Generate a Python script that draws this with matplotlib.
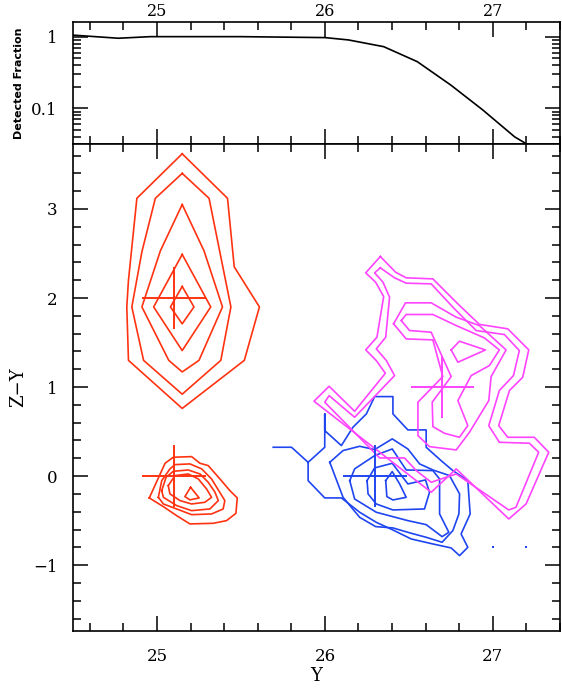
import numpy as np
import matplotlib
matplotlib.use("Agg")
import matplotlib.pyplot as plt
from matplotlib.ticker import MultipleLocator, LogLocator, FuncFormatter, NullFormatter

plt.rcParams['font.family'] = ['DejaVu Serif']

# =========================
# DETECTED FRACTION
# =========================
df_mag = [24.50, 24.77, 24.96, 25.50, 26.00, 26.14, 26.35, 26.55, 26.75, 26.94, 27.13, 27.19]
df_frac = [1.05, 0.95, 1.0, 1.0, 0.97, 0.90, 0.725, 0.448, 0.211, 0.095, 0.040, 0.033]

# =========================
# CONTOURS (Y, Z-Y)
# =========================
red_up_y = [
    [25.15, 25.42, 25.46, 25.61, 25.52, 25.15, 24.83, 24.82, 24.83, 24.88],
    [25.15, 25.31, 25.44, 25.38, 25.15, 24.92, 24.85, 24.91, 24.99],
    [25.15, 25.28, 25.39, 25.25, 25.15, 25.07, 24.91, 25.02],
    [25.15, 25.32, 25.15, 24.98],
    [25.15, 25.22, 25.15, 25.08],
]
red_up_zy = [
    [3.62, 3.12, 2.35, 1.90, 1.30, 0.76, 1.30, 1.90, 2.20, 3.12],
    [3.40, 3.12, 1.90, 1.30, 0.92, 1.30, 1.90, 2.52, 3.12],
    [3.05, 2.53, 1.90, 1.30, 1.17, 1.30, 1.90, 2.53],
    [2.49, 1.90, 1.41, 1.90],
    [2.13, 1.90, 1.71, 1.90],
]

red_lo_y = [
    [24.954, 25.048, 25.097, 25.206, 25.256, 25.305, 25.375, 25.434, 25.478, 25.470, 25.414, 25.335, 25.196, 25.117, 25.038],
    [25.008, 25.028, 25.077, 25.107, 25.196, 25.266, 25.325, 25.365, 25.404, 25.394, 25.325, 25.206, 25.117, 25.038],
    [25.028, 25.054, 25.097, 25.186, 25.256, 25.305, 25.345, 25.365, 25.315, 25.206, 25.117, 25.038],
    [25.067, 25.107, 25.186, 25.246, 25.295, 25.325, 25.285, 25.206, 25.137, 25.077],
    [25.200, 25.166, 25.196, 25.251],
]
red_lo_zy = [
    [-0.245, 0.144, 0.212, 0.219, 0.144, 0.118, -0.032, -0.163, -0.245, -0.418, -0.500, -0.530, -0.537, -0.444, -0.343],
    [-0.238, -0.051, 0.081, 0.129, 0.137, 0.081, -0.032, -0.155, -0.275, -0.369, -0.425, -0.433, -0.369, -0.313],
    [-0.163, -0.013, 0.054, 0.069, 0.024, -0.069, -0.180, -0.275, -0.369, -0.388, -0.331, -0.238],
    [-0.107, 0.006, 0.024, -0.032, -0.144, -0.238, -0.294, -0.313, -0.275, -0.200],
    [-0.126, -0.230, -0.267, -0.245],
]

# outer blue contour is open (runs off the grid on the left)
blue_out_y = [25.692, 25.801, 25.900, 25.900, 25.999, 26.098, 26.207, 26.306, 26.405, 26.514, 26.643,
              26.752, 26.802, 26.851, 26.811, 26.865, 26.851, 26.762, 26.692, 26.603, 26.603, 26.494,
              26.405, 26.405, 26.296, 26.247, 26.167, 26.098, 25.999, 25.999, 25.999, 25.900]
blue_out_zy = [0.324, 0.324, 0.155, -0.051, -0.245, -0.245, -0.406, -0.519, -0.605, -0.706, -0.762,
               -0.807, -0.893, -0.800, -0.650, -0.425, -0.051, 0.062, 0.174, 0.324, 0.519, 0.519,
               0.699, 0.893, 0.893, 0.699, 0.549, 0.343, 0.511, 0.699, 0.324, 0.155]

blue_y = [
    [26.029, 26.108, 26.207, 26.296, 26.401, 26.494, 26.564, 26.643, 26.742, 26.802, 26.798, 26.762,
     26.698, 26.603, 26.514, 26.405, 26.302, 26.207, 26.108],
    [26.148, 26.177, 26.296, 26.401, 26.484, 26.643, 26.683, 26.683, 26.738, 26.698, 26.603, 26.494,
     26.306, 26.177],
    [26.251, 26.296, 26.401, 26.494, 26.599, 26.623, 26.593, 26.405, 26.306, 26.257],
    [26.362, 26.401, 26.445, 26.484, 26.405, 26.369],
]
blue_zy = [
    [0.155, 0.287, 0.335, 0.298, 0.418, 0.305, 0.137, 0.069, 0.006, -0.200, -0.425, -0.612,
     -0.743, -0.687, -0.642, -0.582, -0.567, -0.463, -0.238],
    [-0.051, 0.081, 0.230, 0.305, 0.069, 0.062, -0.032, -0.425, -0.631, -0.680, -0.545, -0.500,
     -0.406, -0.257],
    [-0.051, 0.092, 0.144, -0.088, -0.043, -0.182, -0.369, -0.380, -0.313, -0.200],
    [-0.051, 0.051, -0.088, -0.238, -0.268, -0.230],
]
blue_dot_y = [27.0, 27.2]
blue_dot_zy = [-0.8, -0.8]

mag_y = [
    [26.330, 26.243, 26.302, 26.350, 26.310, 26.243, 26.306, 26.360, 26.177, 26.025, 25.935, 26.633,
     26.782, 27.095, 27.198, 27.333, 27.247, 27.089, 27.035, 27.099, 27.178, 27.214, 27.089, 26.920,
     26.792, 26.643, 26.484, 26.421],
    [26.330, 26.296, 26.346, 26.385, 26.362, 26.306, 26.366, 26.415, 26.177, 26.025, 25.999, 26.326,
     26.474, 26.544, 26.633, 26.782, 27.095, 27.138, 27.273, 27.218, 27.039, 26.976, 27.039, 27.123,
     27.158, 27.069, 26.901, 26.772, 26.633, 26.484, 26.415],
    [26.409, 26.480, 26.633, 26.782, 26.920, 27.079, 26.990, 26.976, 26.861, 26.782, 26.623, 26.554,
     26.554, 26.702, 26.643, 26.484],
    [26.455, 26.484, 26.643, 26.782, 26.950, 27.039, 26.980, 26.871, 26.792, 26.851, 26.801, 26.712,
     26.643, 26.639, 26.752, 26.673, 26.633, 26.504],
    [26.752, 26.801, 26.956, 26.792],
]
mag_zy = [
    [2.466, 2.283, 2.178, 2.017, 1.560, 1.418, 1.298, 1.155, 0.728, 1.009, 0.841, -0.181,
     0.081, -0.481, -0.313, 0.268, 0.436, 0.436, 0.567, 0.961, 1.110, 1.418, 1.654, 1.704,
     1.934, 2.215, 2.227, 2.290],
    [2.339, 2.283, 2.178, 2.009, 1.560, 1.429, 1.298, 1.129, 0.661, 0.904, 0.830, 0.204,
     0.204, 0.062, -0.069, 0.024, -0.380, -0.350, 0.268, 0.369, 0.380, 0.567, 0.961, 1.129,
     1.410, 1.590, 1.635, 1.878, 2.159, 2.167, 2.227],
    [1.710, 1.946, 1.946, 1.785, 1.691, 1.417, 1.118, 0.848, 0.493, 0.294, 0.331, 0.455,
     0.830, 1.118, 1.530, 1.541],
    [1.747, 1.815, 1.815, 1.691, 1.552, 1.417, 1.242, 1.129, 0.848, 0.567, 0.436, 0.481,
     0.556, 0.830, 1.118, 1.448, 1.616, 1.635],
    [1.417, 1.515, 1.417, 1.279],
]

# crosses (centre and half-sizes)
cross_y = [25.10, 25.10, 26.30, 26.70]
cross_zy = [2.0, 0.0, 0.0, 1.0]
cross_dy = 0.19
cross_dzy = 0.35

RED = '#ff3311'
BLUE = '#1f45f0'
MAG = '#ff44ff'
LW = 1.2

# =========================
# FIGURE
# =========================
fig = plt.figure(figsize=(5.62, 6.88), dpi=100)
ax_top = fig.add_axes([0.130, 0.7907, 0.8664, 0.1773])
ax = fig.add_axes([0.130, 0.0828, 0.8664, 0.7079])


def closed(xs, ys):
    return list(xs) + [xs[0]], list(ys) + [ys[0]]


# top panel
ax_top.plot(df_mag, df_frac, color='black', lw=1.2)
ax_top.set_yscale('log')
ax_top.set_xlim(24.5, 27.4)
ax_top.set_ylim(0.0318, 1.6)
ax_top.yaxis.set_major_locator(LogLocator(base=10, numticks=10))
ax_top.yaxis.set_minor_locator(LogLocator(base=10, subs=np.arange(2, 10), numticks=10))
ax_top.yaxis.set_major_formatter(FuncFormatter(lambda v, p: f'{v:g}'))
ax_top.yaxis.set_minor_formatter(NullFormatter())
ax_top.xaxis.set_major_locator(MultipleLocator(1))
ax_top.xaxis.set_minor_locator(MultipleLocator(0.2))
ax_top.set_ylabel('Detected Fraction', family='DejaVu Sans', fontweight='bold', fontsize=8)
ax_top.yaxis.set_label_coords(-0.10, 0.5)

# main panel
for xs, ys in zip(red_up_y, red_up_zy):
    cx, cy = closed(xs, ys)
    ax.plot(cx, cy, color=RED, lw=LW)
for xs, ys in zip(red_lo_y, red_lo_zy):
    cx, cy = closed(xs, ys)
    ax.plot(cx, cy, color=RED, lw=LW)

ax.plot(blue_out_y, blue_out_zy, color=BLUE, lw=LW)
for xs, ys in zip(blue_y, blue_zy):
    cx, cy = closed(xs, ys)
    ax.plot(cx, cy, color=BLUE, lw=LW)
ax.plot(blue_dot_y, blue_dot_zy, ls='none', marker='s', ms=1.6, color=BLUE, mew=0)

for xs, ys in zip(mag_y, mag_zy):
    cx, cy = closed(xs, ys)
    ax.plot(cx, cy, color=MAG, lw=LW)

cross_cols = [RED, RED, BLUE, MAG]
for x, y, c in zip(cross_y, cross_zy, cross_cols):
    ax.errorbar(x, y, xerr=cross_dy, yerr=cross_dzy, fmt='none', ecolor=c,
                elinewidth=1.4, capsize=0)

ax.set_xlim(24.5, 27.4)
ax.set_ylim(-1.74, 3.73)
ax.xaxis.set_major_locator(MultipleLocator(1))
ax.xaxis.set_minor_locator(MultipleLocator(0.2))
ax.yaxis.set_major_locator(MultipleLocator(1))
ax.yaxis.set_minor_locator(MultipleLocator(0.2))
ax.yaxis.set_major_formatter(FuncFormatter(lambda v, p: f'{v:g}'.replace('-', '\u2212')))
ax.set_xlabel('Y', fontsize=13, labelpad=2)
ax.set_ylabel('Z\u2212Y', fontsize=13)
ax.yaxis.set_label_coords(-0.095, 0.5)

for a in (ax_top, ax):
    for s in a.spines.values():
        s.set_linewidth(1.2)
    a.tick_params(which='both', direction='in', top=True, right=True, width=1.1, labelsize=12)
    a.tick_params(which='major', length=11)
    a.tick_params(which='minor', length=6)

ax_top.tick_params(axis='x', labeltop=True, labelbottom=False, pad=1.5, labelsize=11.5)
ax_top.tick_params(axis='y', pad=11)
ax.tick_params(axis='x', pad=12)
ax.tick_params(axis='y', pad=11)

fig.savefig('out.png', dpi=100)
